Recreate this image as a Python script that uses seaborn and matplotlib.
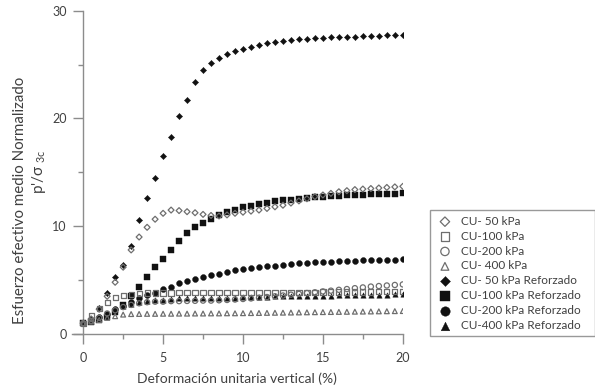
import numpy as np
import pandas as pd
import matplotlib
matplotlib.use("Agg")
import matplotlib.pyplot as plt
from matplotlib.ticker import MultipleLocator
import seaborn as sns

sns.set_style("white")
plt.rcParams['font.family'] = ['Lato', 'DejaVu Sans']

strain = [0, 0.5, 1, 1.5, 2, 2.5, 3, 3.5, 4, 4.5, 5, 5.5, 6, 6.5, 7, 7.5, 8, 8.5, 9, 9.5,
          10, 10.5, 11, 11.5, 12, 12.5, 13, 13.5, 14, 14.5, 15, 15.5, 16, 16.5, 17, 17.5,
          18, 18.5, 19, 19.5, 20]

cu50 = [1.0, 1.4, 2.3, 3.5, 4.8, 6.2, 7.8, 9.0, 9.9, 10.65, 11.2, 11.5, 11.45, 11.35, 11.25,
        11.1, 11.0, 10.95, 11.05, 11.2, 11.3, 11.4, 11.5, 11.65, 11.8, 11.95, 12.15, 12.35,
        12.55, 12.75, 12.9, 13.05, 13.2, 13.3, 13.4, 13.45, 13.5, 13.55, 13.6, 13.65, 13.7]
cu100 = [1.0, 1.7, 2.4, 2.9, 3.4, 3.6, 3.7, 3.75, 3.8, 3.8, 3.8, 3.8, 3.82, 3.82, 3.83,
         3.83, 3.84, 3.84, 3.85, 3.85, 3.85, 3.86, 3.86, 3.86, 3.87, 3.87, 3.87, 3.88, 3.88,
         3.88, 3.89, 3.89, 3.89, 3.9, 3.9, 3.9, 3.9, 3.91, 3.91, 3.91, 3.92]
cu200 = [1.0, 1.2, 1.5, 1.9, 2.2, 2.5, 2.7, 2.85, 2.95, 3.0, 3.0, 3.05, 3.05, 3.07, 3.08,
         3.1, 3.1, 3.13, 3.16, 3.2, 3.25, 3.3, 3.36, 3.43, 3.5, 3.57, 3.65, 3.72, 3.8, 3.87,
         3.95, 4.02, 4.1, 4.17, 4.25, 4.32, 4.4, 4.45, 4.5, 4.55, 4.6]
cu400 = [1.0, 1.15, 1.3, 1.5, 1.65, 1.8, 1.85, 1.86, 1.87, 1.87, 1.88, 1.88, 1.89, 1.89, 1.9,
         1.9, 1.91, 1.91, 1.92, 1.92, 1.93, 1.94, 1.95, 1.96, 1.97, 1.98, 1.99, 2.0, 2.01,
         2.02, 2.03, 2.04, 2.05, 2.06, 2.07, 2.08, 2.09, 2.1, 2.11, 2.12, 2.13]
cu50r = [1.0, 1.4, 2.4, 3.8, 5.3, 6.4, 8.2, 10.6, 12.6, 14.5, 16.5, 18.3, 20.27, 21.73, 23.37,
         24.48, 25.19, 25.6, 25.97, 26.25, 26.46, 26.65, 26.81, 26.99, 27.08, 27.21, 27.27,
         27.33, 27.39, 27.46, 27.51, 27.55, 27.58, 27.6, 27.6, 27.64, 27.67, 27.67, 27.7,
         27.7, 27.73]
cu100r = [1.0, 1.1, 1.3, 1.6, 2.0, 2.7, 3.5, 4.4, 5.3, 6.2, 7.0, 7.8, 8.65, 9.35, 9.9, 10.3,
          10.7, 11.0, 11.3, 11.55, 11.75, 11.9, 12.05, 12.2, 12.3, 12.4, 12.45, 12.55, 12.65,
          12.7, 12.75, 12.8, 12.85, 12.87, 12.9, 12.92, 12.95, 12.97, 13.0, 13.0, 13.05]
cu200r = [1.0, 1.3, 1.6, 1.9, 2.3, 2.6, 3.0, 3.3, 3.6, 3.85, 4.15, 4.4, 4.7, 4.95, 5.1, 5.26,
          5.45, 5.6, 5.75, 5.9, 6.0, 6.1, 6.2, 6.28, 6.35, 6.43, 6.5, 6.56, 6.6, 6.65, 6.7,
          6.72, 6.75, 6.78, 6.8, 6.83, 6.85, 6.87, 6.9, 6.9, 6.92]
cu400r = [1.0, 1.2, 1.5, 1.9, 2.3, 2.6, 2.8, 3.0, 3.1, 3.15, 3.2, 3.25, 3.3, 3.31, 3.32,
          3.33, 3.35, 3.36, 3.37, 3.38, 3.4, 3.42, 3.44, 3.46, 3.48, 3.5, 3.51, 3.52, 3.53,
          3.55, 3.56, 3.57, 3.58, 3.59, 3.6, 3.62, 3.63, 3.64, 3.65, 3.67, 3.7]

labels = ["CU- 50 kPa", "CU-100 kPa", "CU-200 kPa", "CU- 400 kPa",
          "CU- 50 kPa Reforzado", "CU-100 kPa Reforzado", "CU-200 kPa Reforzado",
          "CU-400 kPa Reforzado"]
series = [cu50, cu100, cu200, cu400, cu50r, cu100r, cu200r, cu400r]
markers = ["D", "s", "o", "^", "D", "s", "o", "^"]
sizes = [9, 14, 14, 12, 10, 17, 18, 15]
filled = [False, False, False, False, True, True, True, True]

fig = plt.figure(figsize=(5.95, 3.89), dpi=100)
ax = fig.add_axes([0.121, 0.1414, 0.556, 0.8311])

gray = "#6e6e6e"
for lab, vals, mk, sz, fl in zip(labels, series, markers, sizes, filled):
    df = pd.DataFrame({"x": strain, "y": vals})
    if fl:
        sns.scatterplot(data=df, x="x", y="y", marker=mk, s=sz, color="#111111",
                        edgecolor="#111111", linewidth=0.3, ax=ax, label=lab, zorder=3)
    else:
        sns.scatterplot(data=df, x="x", y="y", marker=mk, s=sz, facecolor="none",
                        edgecolor=gray, linewidth=0.9, ax=ax, label=lab, zorder=4)

ax.set_xlim(-0.7, 20)
ax.set_ylim(0, 30)
ax.spines["left"].set_position(("data", 0))
ax.spines["top"].set_visible(False)
ax.spines["right"].set_visible(False)
for sp in ("left", "bottom"):
    ax.spines[sp].set_color("#8c8c8c")
    ax.spines[sp].set_linewidth(1.0)

ax.xaxis.set_major_locator(MultipleLocator(5))
ax.xaxis.set_minor_locator(MultipleLocator(2.5))
ax.yaxis.set_major_locator(MultipleLocator(10))
ax.yaxis.set_minor_locator(MultipleLocator(5))
ax.tick_params(axis="both", which="major", direction="out", length=7, width=1,
               color="#8c8c8c", labelcolor="#404040", labelsize=9)
ax.tick_params(axis="both", which="minor", direction="out", length=3.5, width=1,
               color="#8c8c8c")
ax.tick_params(axis="x", which="both", bottom=True, pad=6)
ax.tick_params(axis="y", which="both", left=True, pad=5)

ax.set_xlabel("Deformación unitaria vertical (%)", fontsize=10, color="#404040", labelpad=6)
ax.set_ylabel("")
fig.text(0.033, 0.485, "Esfuerzo efectivo medio Normalizado", rotation=90,
         ha="center", va="center", fontsize=10.8, color="#404040")
fig.text(0.066, 0.56, r"p'/σ $_{\mathregular{3c}}$", rotation=90,
         ha="center", va="center", fontsize=11, color="#404040")

leg = ax.legend(loc="upper left", bbox_to_anchor=(0.723, 0.144, 0.277, 0.315),
                bbox_transform=fig.transFigure, mode="expand", fontsize=8.5, frameon=True,
                fancybox=False, edgecolor="#999999", framealpha=1,
                labelspacing=0.33, handletextpad=0.6, borderpad=0.45,
                markerscale=1.6, handlelength=1.6, borderaxespad=0)
leg.get_frame().set_linewidth(1.0)
for t in leg.get_texts():
    t.set_color("#404040")

fig.savefig("out.png", dpi=100)
